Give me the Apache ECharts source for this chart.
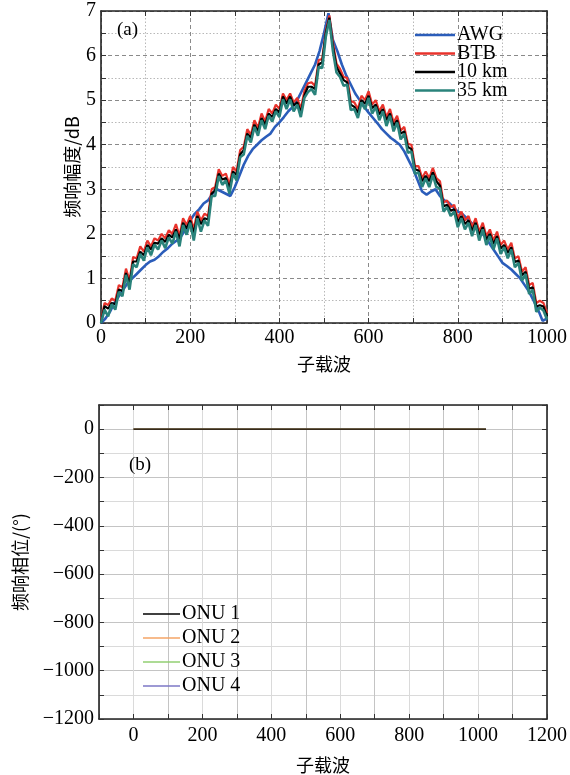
<!DOCTYPE html>
<html>
<head>
<meta charset="utf-8">
<script src="https://cdn.jsdelivr.net/npm/echarts@6/dist/echarts.min.js"></script>
<style>html,body{margin:0;padding:0;background:#fff;}#c{width:570px;height:775px;}</style>
</head>
<body>
<div id="c"></div>
<script>
// ---------- Data ----------
// Panel (a): AWG sampled every 10 subcarriers
const awgSub = [0,10,20,30,40,50,60,70,80,90,100,110,120,130,140,150,160,170,180,190,200,210,220,230,240,250,260,270,280,290,300,310,320,330,340,350,360,370,380,390,400,410,420,430,440,450,460,470,480,490,500,510,520,530,540,550,560,570,580,590,600,610,620,630,640,650,660,670,680,690,700,710,720,730,740,750,760,770,780,790,800,810,820,830,840,850,860,870,880,890,900,910,920,930,940,950,960,970,980,990,1000];
const awg = [0.0,0.1,0.25,0.45,0.6,0.75,0.9,1.0,1.1,1.2,
1.3,1.38,1.42,1.5,1.6,1.68,1.78,1.85,1.95,2.1,
2.3,2.45,2.55,2.68,2.75,2.9,3.0,2.95,2.9,2.85,
3.05,3.3,3.55,3.75,3.9,4.0,4.1,4.18,4.25,4.4,
4.5,4.62,4.75,4.85,5.0,5.2,5.4,5.6,5.8,6.1,
6.5,6.95,6.35,6.1,5.8,5.55,5.35,5.15,5.0,4.85,
4.72,4.6,4.48,4.35,4.25,4.15,4.08,4.0,3.85,3.65,
3.45,3.2,2.95,2.88,2.95,3.0,2.85,2.75,2.7,2.6,
2.5,2.45,2.35,2.25,2.15,2.05,1.95,1.8,1.65,1.5,
1.35,1.28,1.2,1.1,1.0,0.85,0.7,0.5,0.3,0.05,
0.1];
// Panel (a): BTB / 10 km / 35 km sampled every 8 subcarriers (0..1000)
const SAMPLE_STEP = 8;
const btb = [0.05,0.45,0.4,0.55,0.5,0.85,0.8,1.22,0.95,1.48,
1.45,1.72,1.6,1.85,1.72,1.9,1.85,2.0,1.9,2.08,
2.0,2.22,1.95,2.35,2.2,2.4,2.1,2.5,2.3,2.45,
2.4,3.0,3.05,3.45,3.3,3.35,3.1,3.5,3.4,3.88,
3.95,4.35,4.22,4.55,4.38,4.7,4.52,4.8,4.7,4.9,
4.8,5.15,5.0,5.15,4.95,5.05,4.8,5.2,5.38,5.4,
5.32,5.9,5.92,6.55,6.9,6.3,5.82,5.7,5.52,5.5,
4.98,4.95,4.8,5.1,5.0,5.2,4.9,5.0,4.75,4.9,
4.62,4.8,4.5,4.65,4.32,4.4,4.02,4.0,3.52,3.52,
3.25,3.4,3.25,3.48,3.25,3.18,2.7,2.75,2.6,2.65,
2.35,2.5,2.3,2.4,2.15,2.35,2.05,2.25,1.95,2.1,
1.85,2.05,1.75,1.85,1.65,1.8,1.45,1.5,1.15,1.25,
0.85,0.9,0.45,0.5,0.45,0.22];
const km10 = [0.0,0.38,0.32,0.45,0.42,0.75,0.72,1.12,0.88,1.38,
1.38,1.6,1.52,1.75,1.65,1.8,1.78,1.9,1.82,1.98,
1.92,2.1,1.88,2.25,2.12,2.3,2.02,2.4,2.22,2.35,
2.32,2.9,2.98,3.35,3.22,3.25,3.02,3.4,3.32,3.78,
3.88,4.25,4.15,4.45,4.3,4.6,4.45,4.7,4.62,4.8,
4.72,5.08,4.92,5.08,4.88,4.95,4.72,5.1,5.3,5.3,
5.25,5.8,5.85,6.5,6.85,6.2,5.75,5.6,5.45,5.4,
4.9,4.85,4.72,5.0,4.92,5.1,4.82,4.9,4.68,4.8,
4.55,4.7,4.42,4.55,4.25,4.3,3.95,3.9,3.45,3.42,
3.18,3.3,3.18,3.38,3.18,3.08,2.62,2.65,2.52,2.55,
2.27,2.4,2.22,2.3,2.07,2.25,1.97,2.15,1.87,2.0,
1.77,1.95,1.67,1.75,1.57,1.7,1.37,1.4,1.07,1.15,
0.77,0.8,0.37,0.4,0.37,0.15];
const km35 = [0.0,0.3,0.15,0.42,0.3,0.7,0.6,1.08,0.75,1.32,
1.25,1.55,1.4,1.7,1.52,1.76,1.65,1.85,1.68,1.92,
1.78,2.05,1.72,2.2,1.98,2.25,1.85,2.35,2.05,2.3,
2.18,2.85,2.85,3.3,3.1,3.2,2.9,3.35,3.2,3.72,
3.78,4.2,4.05,4.4,4.2,4.55,4.35,4.65,4.52,4.75,
4.62,5.02,4.8,5.02,4.75,4.9,4.62,5.05,5.18,5.25,
5.12,5.75,5.72,6.42,6.8,6.1,5.62,5.52,5.32,5.35,
4.78,4.8,4.6,4.95,4.8,5.05,4.7,4.85,4.55,4.75,
4.42,4.65,4.3,4.5,4.12,4.25,3.82,3.85,3.35,3.38,
3.05,3.25,3.05,3.32,3.05,3.02,2.5,2.6,2.4,2.5,
2.15,2.35,2.1,2.25,1.95,2.2,1.85,2.1,1.75,1.95,
1.65,1.9,1.55,1.7,1.45,1.65,1.25,1.35,0.95,1.1,
0.65,0.75,0.25,0.35,0.28,0.08];
// Panel (b): phase response, all ONUs flat at 0 over subcarriers 0..1023
const onuSub = [0, 1023];
const onu1 = [0, 0];
const onu2 = [0, 0];
const onu3 = [0, 0];
const onu4 = [0, 0];
// Tick labels shown on panel (b)
const phaseXTicks = [0,200,400,600,800,1000,1200];
const phaseTicks = [0,-200,-400,-600,-800,-1000,-1200];

// ---------- Helpers ----------
const pair = (xs, ys) => ys.map((v, i) => [xs[i], v]);
const sampled = ys => ys.map((v, i) => [i * SAMPLE_STEP, v]);
const SERIF = 'Liberation Serif';
const CJK = 'Noto Sans CJK SC';
const minus = v => String(v).replace('-', '\u2212');

const chart = echarts.init(document.getElementById('c'), null, {renderer: 'canvas'});

const labelStyle = {color: '#000', fontFamily: SERIF, fontSize: 20};
const tickIn = {show: true, inside: true, length: 5, lineStyle: {color: '#333', width: 1}};
const borderLine = {show: true, onZero: false, lineStyle: {color: '#222', width: 1.6}};
const nameStyle = {color: '#000', fontFamily: CJK, fontSize: 18};

function topX(pos, show) {
  return {
    type: 'value', gridIndex: 0, position: pos, min: 0, max: 1000, interval: 200,
    axisLine: borderLine, axisTick: tickIn,
    minorTick: {show: true, splitNumber: 2, length: 5, lineStyle: {color: '#333'}},
    axisLabel: show ? Object.assign({margin: 5, formatter: v => String(v)}, labelStyle) : {show: false},
    splitLine: {show: show, lineStyle: {color: '#8a8a8a', type: [4, 3], width: 1}},
    minorSplitLine: {show: show, lineStyle: {color: '#b8b8b8', type: [1.5, 2], width: 1}},
    name: show ? '子载波' : '', nameLocation: 'middle', nameGap: 32, nameMoveOverlap: false, nameTextStyle: nameStyle
  };
}
function topY(pos, show) {
  return {
    type: 'value', gridIndex: 0, position: pos, min: 0, max: 7, interval: 1,
    axisLine: borderLine, axisTick: tickIn,
    minorTick: {show: true, splitNumber: 2, length: 5, lineStyle: {color: '#333'}},
    axisLabel: show ? Object.assign({margin: 5}, labelStyle) : {show: false},
    splitLine: {show: show, lineStyle: {color: '#8a8a8a', type: [4, 3], width: 1}},
    minorSplitLine: {show: show, lineStyle: {color: '#b8b8b8', type: [1.5, 2], width: 1}},
    name: show ? '频响幅度/dB' : '', nameLocation: 'middle', nameGap: 20, nameMoveOverlap: false, nameTextStyle: nameStyle
  };
}
function botX(pos, show) {
  return {
    type: 'value', gridIndex: 1, position: pos, min: -100, max: 1200, interval: 100,
    axisLine: borderLine, axisTick: tickIn,
    axisLabel: show ? Object.assign({margin: 7, formatter: v => (phaseXTicks.indexOf(v) >= 0 ? minus(v) : '')}, labelStyle) : {show: false},
    splitLine: {show: show, lineStyle: {color: ['#c4c4c4', '#dadada'], width: 1}},
    name: show ? '子载波' : '', nameLocation: 'middle', nameGap: 37, nameMoveOverlap: false, nameTextStyle: nameStyle
  };
}
function botY(pos, show) {
  return {
    type: 'value', gridIndex: 1, position: pos, min: -1200, max: 100, interval: 100,
    axisLine: borderLine, axisTick: tickIn,
    axisLabel: show ? Object.assign({margin: 5, formatter: v => (phaseTicks.indexOf(v) >= 0 ? minus(v) : '')}, labelStyle) : {show: false},
    splitLine: {show: show, lineStyle: {color: ['#c4c4c4', '#dadada'], width: 1}},
    name: show ? '频响相位/(°)' : '', nameLocation: 'middle', nameGap: 70, nameMoveOverlap: false, nameTextStyle: nameStyle
  };
}

const lineBase = {type: 'line', showSymbol: false, symbol: 'none', animation: false};

chart.setOption({
  backgroundColor: '#fff',
  animation: false,
  title: [
    {text: '(a)', left: 112, top: 16, textStyle: {fontFamily: SERIF, fontSize: 19, fontWeight: 'normal', color: '#000'}},
    {text: '(b)', left: 124, top: 451, textStyle: {fontFamily: SERIF, fontSize: 19, fontWeight: 'normal', color: '#000'}}
  ],
  grid: [
    {left: 101, right: 21, top: 11, height: 312},
    {left: 99, right: 22, top: 405, height: 315}
  ],
  xAxis: [topX('bottom', true), topX('top', false), botX('bottom', true), botX('top', false)],
  yAxis: [topY('left', true), topY('right', false), botY('left', true), botY('right', false)],
  legend: [
    {
      orient: 'vertical', left: 410, top: 20, icon: 'rect', itemWidth: 40, itemHeight: 2.5, itemGap: -1.5,
      textStyle: {fontFamily: SERIF, fontSize: 20, lineHeight: 16, color: '#000', padding: [0, 0, 0, -3]},
      data: ['AWG', 'BTB', '10 km', '35 km']
    },
    {
      orient: 'vertical', left: 138, top: 599, icon: 'rect', itemWidth: 37, itemHeight: 1.6, itemGap: 4,
      textStyle: {fontFamily: SERIF, fontSize: 20, lineHeight: 18, color: '#000', padding: [0, 0, 0, -3]},
      data: ['ONU 1', 'ONU 2', 'ONU 3', 'ONU 4']
    }
  ],
  series: [
    Object.assign({}, lineBase, {name: 'AWG', xAxisIndex: 0, yAxisIndex: 0, data: pair(awgSub, awg),
      lineStyle: {color: '#2B5DBA', width: 2.6}, itemStyle: {color: '#2B5DBA'}}),
    Object.assign({}, lineBase, {name: 'BTB', xAxisIndex: 0, yAxisIndex: 0, data: sampled(btb),
      lineStyle: {color: '#E8332C', width: 2.2}, itemStyle: {color: '#E8332C'}}),
    Object.assign({}, lineBase, {name: '10 km', xAxisIndex: 0, yAxisIndex: 0, data: sampled(km10),
      lineStyle: {color: '#000000', width: 2.2}, itemStyle: {color: '#000000'}}),
    Object.assign({}, lineBase, {name: '35 km', xAxisIndex: 0, yAxisIndex: 0, data: sampled(km35),
      lineStyle: {color: '#2A837B', width: 2.6}, itemStyle: {color: '#2A837B'}}),
    Object.assign({}, lineBase, {name: 'ONU 4', xAxisIndex: 2, yAxisIndex: 2, data: pair(onuSub, onu4),
      lineStyle: {color: '#7C77C6', width: 1.4}, itemStyle: {color: '#7C77C6'}}),
    Object.assign({}, lineBase, {name: 'ONU 3', xAxisIndex: 2, yAxisIndex: 2, data: pair(onuSub, onu3),
      lineStyle: {color: '#92CF72', width: 1.4}, itemStyle: {color: '#92CF72'}}),
    Object.assign({}, lineBase, {name: 'ONU 2', xAxisIndex: 2, yAxisIndex: 2, data: pair(onuSub, onu2),
      lineStyle: {color: '#F4A466', width: 1.4}, itemStyle: {color: '#F4A466'}}),
    Object.assign({}, lineBase, {name: 'ONU 1', xAxisIndex: 2, yAxisIndex: 2, data: pair(onuSub, onu1),
      lineStyle: {color: '#000000', width: 1.4}, itemStyle: {color: '#000000'}})
  ]
});
</script>
</body>
</html>
